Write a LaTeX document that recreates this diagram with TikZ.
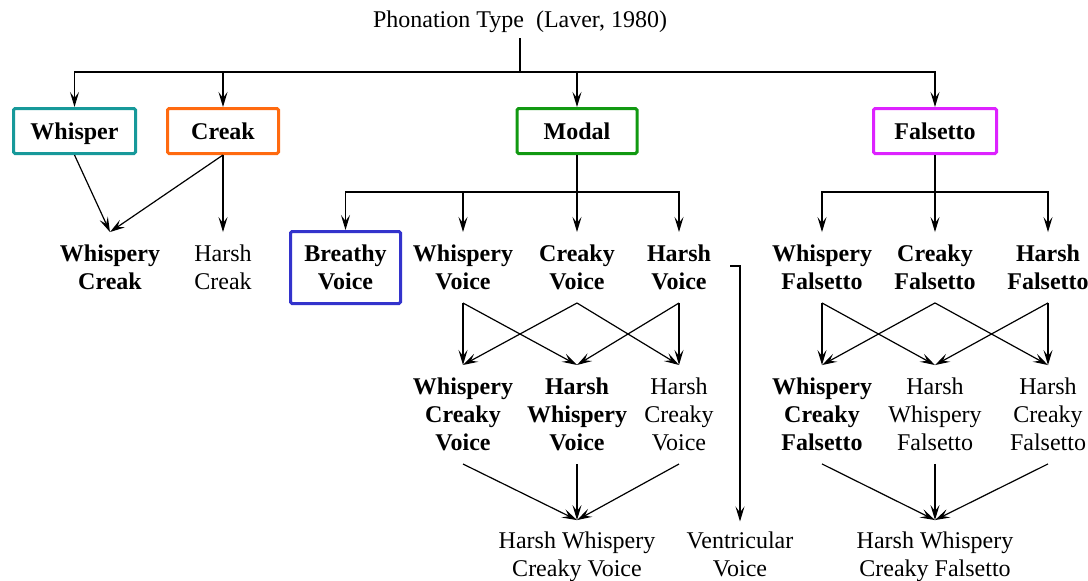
\documentclass[tikz,border=0pt]{standalone}
\usepackage{fontspec}
\setmainfont{Liberation Serif}
\usetikzlibrary{arrows.meta, positioning}
\definecolor{wteal}{HTML}{17999A}
\definecolor{corange}{HTML}{FF6A10}
\definecolor{mgreen}{HTML}{119911}
\definecolor{fmagenta}{HTML}{DD22FF}
\definecolor{bblue}{HTML}{3333CC}

\begin{document}
\begin{tikzpicture}[x=1pt, y=-1pt,
  >={Stealth[length=15pt, width=9pt, inset=6pt]},
  catbox/.style={
    draw=#1, line width=3pt, rounded corners=1.5pt,
    minimum height=45pt, inner sep=0pt, align=center,
    font=\fontsize{24}{28}\selectfont\bfseries
  },
  onebox/.style={catbox=#1, text height=16pt, text depth=0pt},
  lbl/.style={align=center, inner sep=0pt, outer ysep=13pt,
    font=\fontsize{24}{28}\selectfont},
  blbl/.style={lbl, font=\fontsize{24}{28}\selectfont\bfseries},
  ln/.style={line width=1.2pt},
  arr/.style={->, line width=1.2pt},
]

\useasboundingbox (0,0) rectangle (1088,581);

% Title
\node[font=\fontsize{24}{28}\selectfont, inner sep=0pt, outer ysep=6pt,
      anchor=base] (title) at (520,27) {Phonation Type\ \ (Laver, 1980)};

% =============================================
% Main categories
% =============================================
\node[onebox=wteal, minimum width=122pt] (whisper) at (74.5,131) {Whisper};
\node[onebox=corange, minimum width=111pt] (creak) at (223,131) {Creak};
\node[onebox=mgreen, minimum width=120pt] (modal) at (577,131) {Modal};
\node[onebox=fmagenta, minimum width=123pt] (falsetto) at (935,131) {Falsetto};

\coordinate (top-bus) at (520,72);
\draw[ln] (title.south) -- (top-bus);
\draw[arr] (top-bus) -| (whisper.north);
\draw[arr] (top-bus) -| (creak.north);
\draw[arr] (top-bus) -| (modal.north);
\draw[arr] (top-bus) -| (falsetto.north);

% =============================================
% Whisper / Creak
% =============================================
\node[blbl] (wcreak) at (110,267.5) {Whispery\\Creak};
\node[lbl] (hcreak) at (223,267.5) {Harsh\\Creak};
\draw[arr] (whisper.south) -- (wcreak.north);
\draw[arr] (creak.south) -- (wcreak.north);
\draw[arr] (creak.south) -- (hcreak.north);

% =============================================
% Modal
% =============================================
\node[catbox=bblue, minimum width=110pt, minimum height=72pt]
  (breathy) at (345.5,267.5) {Breathy\\Voice};
\node[blbl] (wvoice) at (463,267.5) {Whispery\\Voice};
\node[blbl] (cvoice) at (577,267.5) {Creaky\\Voice};
\node[blbl] (hvoice) at (679,267.5) {Harsh\\Voice};

\coordinate (modal-bus) at (577,192);
\draw[ln] (modal.south) -- (modal-bus);
\draw[arr] (modal-bus) -| (breathy.north);
\draw[arr] (modal-bus) -| (wvoice.north);
\draw[arr] (modal-bus) -- (cvoice.north);
\draw[arr] (modal-bus) -| (hvoice.north);

\node[blbl] (wcvoice) at (463,414.5) {Whispery\\Creaky\\Voice};
\node[blbl] (hwvoice) at (577,414.5) {Harsh\\Whispery\\Voice};
\node[lbl] (hcvoice) at (679,414.5) {Harsh\\Creaky\\Voice};

\draw[arr] (wvoice.south) -- (wcvoice.north);
\draw[arr] (wvoice.south) -- (hwvoice.north);
\draw[arr] (cvoice.south) -- (wcvoice.north);
\draw[arr] (cvoice.south) -- (hcvoice.north);
\draw[arr] (hvoice.south) -- (hwvoice.north);
\draw[arr] (hvoice.south) -- (hcvoice.north);

\node[lbl, outer ysep=12pt] (hwcvoice) at (577,557) {Harsh Whispery\\Creaky Voice};
\draw[arr] (wcvoice.south) -- (hwcvoice.north);
\draw[arr] (hwvoice.south) -- (hwcvoice.north);
\draw[arr] (hcvoice.south) -- (hwcvoice.north);

% Ventricular
\node[lbl, outer ysep=10pt] (vent) at (740,554) {Ventricular\\Voice};
\coordinate (vent-in) at (730,266);
\draw[arr] (vent-in) -| (vent.north);

% =============================================
% Falsetto
% =============================================
\node[blbl] (wfals) at (822,267.5) {Whispery\\Falsetto};
\node[blbl] (cfals) at (935,267.5) {Creaky\\Falsetto};
\node[blbl] (hfals) at (1048,267.5) {Harsh\\Falsetto};

\coordinate (fals-bus) at (935,192);
\draw[ln] (falsetto.south) -- (fals-bus);
\draw[arr] (fals-bus) -| (wfals.north);
\draw[arr] (fals-bus) -- (cfals.north);
\draw[arr] (fals-bus) -| (hfals.north);

\node[blbl] (wcfals) at (822,414.5) {Whispery\\Creaky\\Falsetto};
\node[lbl] (hwfals) at (935,414.5) {Harsh\\Whispery\\Falsetto};
\node[lbl] (hcfals) at (1048,414.5) {Harsh\\Creaky\\Falsetto};

\draw[arr] (wfals.south) -- (wcfals.north);
\draw[arr] (wfals.south) -- (hwfals.north);
\draw[arr] (cfals.south) -- (wcfals.north);
\draw[arr] (cfals.south) -- (hcfals.north);
\draw[arr] (hfals.south) -- (hwfals.north);
\draw[arr] (hfals.south) -- (hcfals.north);

\node[lbl, outer ysep=12pt] (hwcfals) at (935,557) {Harsh Whispery\\Creaky Falsetto};
\draw[arr] (wcfals.south) -- (hwcfals.north);
\draw[arr] (hwfals.south) -- (hwcfals.north);
\draw[arr] (hcfals.south) -- (hwcfals.north);

\end{tikzpicture}
\end{document}
